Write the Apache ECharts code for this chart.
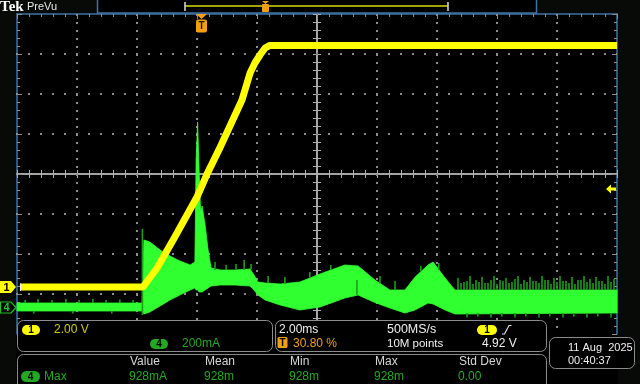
<!DOCTYPE html>
<html><head><meta charset="utf-8">
<script src="https://cdn.jsdelivr.net/npm/echarts@6/dist/echarts.min.js"></script>
<style>html,body{margin:0;padding:0;background:#000;}#c{width:640px;height:384px;}</style>
</head><body><div id="c"></div>
<script>
// Screen time range (ms, relative to trigger at 30.80 %), 2.00 ms/div
const timeMin = -6.16, timeMax = 13.84;
// Channel 1: 2.00 V/div ; Channel 4: 200 mA/div (screen extents incl. offsets)
const ch1Min = -2.35, ch1Max = 13.65;
const ch4Min = -0.1325, ch4Max = 1.4675;

// Graticule divisions (10 x 8), interior lines
const gridXDivs = [-4, -3, -2, -1, 1, 2, 3, 4];
const gridYDivs = [-3, -2, -1, 1, 2, 3];

// Channel 1 (yellow) voltage trace
const ch1Time  = [-6.06, -1.96, -1.49, -0.89, -0.16, 0.17, 0.61, 1.34, 1.61, 1.77, 1.94, 2.11, 2.27, 13.84];
const ch1Volts = [0, 0, 0.95, 2.53, 4.5, 5.63, 6.98, 9.35, 10.7, 11.2, 11.6, 11.95, 12.08, 12.08];

// Channel 4 (green) current envelope
const ch4Time = [-6.16,-1.99,-1.93,-1.73,-1.39,-1.06,-0.73,-0.39,-0.23,-0.19,-0.14,-0.09,-0.04,0.01,0.11,0.21,0.31,0.61,1.11,1.61,1.74,1.87,2.11,2.61,3.27,3.94,4.77,5.21,5.77,6.27,6.77,7.11,7.54,7.71,8.11,8.44,13.84];
const ch4High = [0.0225,0.0225,0.3375,0.3275,0.2875,0.2575,0.2325,0.2125,0.2275,0.7375,0.9275,0.6875,0.4775,0.5075,0.4125,0.2875,0.1975,0.1875,0.1875,0.1925,0.1625,0.1275,0.1225,0.1175,0.1275,0.1675,0.2125,0.2075,0.1375,0.0875,0.0875,0.1525,0.2125,0.2275,0.1475,0.0875,0.0875];
const ch4Low  = [-0.0175,-0.0175,-0.0325,-0.0225,0.0075,0.0375,0.0625,0.0875,0.0975,0.0875,0.0875,0.0775,0.0775,0.0775,0.0875,0.0975,0.1075,0.1125,0.1125,0.1075,0.0875,0.0625,0.0375,0.0125,-0.0125,0.0025,0.0475,0.0625,0.025,-0.0025,-0.0275,-0.0125,0.0225,0.0175,-0.0125,-0.0325,-0.0275];

// Channel 4 noise spikes (time, from, to)
const spikeTime = [-5.89,-5.46,-4.99,-4.53,-4.09,-3.63,-3.19,-2.73,-2.29,-5.6,-4.3,-3.0,-1.98,0.44,0.81,1.14,1.41,1.64,2.21,2.77,3.6,4.3,5.17,5.94,6.44,7.3,7.9,
  8.54,8.74,8.94,9.14,9.34,9.54,9.74,9.94,10.14,10.34,10.54,10.74,10.94,11.14,11.34,11.54,11.74,11.94,12.14,12.34,12.54,12.74,12.94,13.14,13.34,13.54,13.74,
  8.64,8.84,9.04,9.24,9.44,9.64,9.84,10.04,10.24,10.44,10.64,10.84,11.04,11.24,11.44,11.64,11.84,12.04,12.24,12.44,12.64,12.84,13.04,13.24,13.44,13.64,
  8.84,9.64,10.44,11.24,12.04,12.84,13.64,9.2,10.0,10.8,11.6,12.4,13.2];
const spikeLow  = [0.0225,0.0225,0.0225,0.0225,0.0225,0.0225,0.0225,0.0225,0.0225,-0.03,-0.03,-0.03,-0.0375,0.1875,0.1875,0.1875,0.1875,0.1925,0.1225,0.1175,0.1475,0.1875,0.0625,0.12,0.0875,0.1825,0.1875,
  0.0875,0.0875,0.0875,0.0875,0.0875,0.0875,0.0875,0.0875,0.0875,0.0875,0.0875,0.0875,0.0875,0.0875,0.0875,0.0875,0.0875,0.0875,0.0875,0.0875,0.0875,0.0875,0.0875,0.0875,0.0875,0.0875,0.0875,
  0.0875,0.0875,0.0875,0.0875,0.0875,0.0875,0.0875,0.0875,0.0875,0.0875,0.0875,0.0875,0.0875,0.0875,0.0875,0.0875,0.0875,0.0875,0.0875,0.0875,0.0875,0.0875,0.0875,0.0875,0.0875,0.0875,
  -0.05,-0.05,-0.05,-0.05,-0.05,-0.05,-0.05,-0.045,-0.045,-0.045,-0.045,-0.045,-0.045];
const spikeHigh = [0.0375,0.0425,0.0375,0.0425,0.0375,0.0425,0.0375,0.04,0.0375,-0.0175,-0.0175,-0.0175,0.3925,0.2275,0.2125,0.2175,0.2375,0.2175,0.1575,0.1525,0.1775,0.2125,0.1375,0.1575,0.1325,0.2075,0.2225,
  0.1475,0.1275,0.1575,0.1375,0.1525,0.1225,0.1575,0.1375,0.1475,0.1275,0.1575,0.1375,0.1525,0.1325,0.1575,0.1375,0.1475,0.1575,0.1325,0.1525,0.1375,0.1575,0.1425,0.1525,0.1325,0.1575,0.1425,
  0.1225,0.1325,0.1175,0.1275,0.1225,0.1375,0.1175,0.1325,0.1225,0.1425,0.1175,0.1275,0.1325,0.1225,0.1375,0.1175,0.1275,0.1325,0.1225,0.1175,0.1375,0.1275,0.1225,0.1325,0.1175,0.1275,
  -0.0275,-0.0275,-0.0275,-0.0275,-0.0275,-0.0275,-0.0275,-0.0275,-0.0275,-0.0275,-0.0275,-0.0275,-0.0275];

// Readout texts
const ch1Scale = '2.00 V', ch4Scale = '200mA';
const timeScale = '2.00ms', triggerPos = '30.80 %', sampleRate = '500MS/s', recordLen = '10M points', trigLevel = '4.92 V';
const dateText = '11 Aug  2025', timeText = '00:40:37';
const measHeaders = ['Value', 'Mean', 'Min', 'Max', 'Std Dev'];
const measValues = ['928mA', '928m', '928m', '928m', '0.00'];

const GRAY = '#8c8c8c', CENTER = '#b0b0b0', BLUE = '#3f74a8';
const YEL = '#ffff00', GRN = '#30ff30', DGRN = '#1c9e1c', ORG = '#f0a010';
const FONT = '"Liberation Sans", Arial, sans-serif';

const chart = echarts.init(document.getElementById('c'), null, {renderer: 'canvas'});

function gridAxis(extra) {
  return Object.assign({
    type: 'value', min: -5, max: 5, interval: 1,
    axisLabel: {show: false}, axisTick: {show: false}, axisLine: {show: false},
    splitLine: {show: false}, minorTick: {show: false}
  }, extra);
}
function gridYAxis(extra) {
  return Object.assign({
    type: 'value', min: -4, max: 4, interval: 1,
    axisLabel: {show: false}, axisTick: {show: false}, axisLine: {show: false},
    splitLine: {show: false}, minorTick: {show: false}
  }, extra);
}
const centerLine = {show: true, onZero: true, onZeroAxisIndex: 0, lineStyle: {color: CENTER, width: 1.5}};
const centerTick = {show: true, length: 4, lineStyle: {color: CENTER, width: 1}};
const centerMinor = {show: true, splitNumber: 5, length: 4, lineStyle: {color: CENTER, width: 1}};
const borderLine = {show: true, onZero: false, lineStyle: {color: BLUE, width: 1.5}};
const borderTick = {show: true, inside: true, length: 5, lineStyle: {color: GRAY, width: 1}};
const borderMinor = {show: true, splitNumber: 5, length: 3, lineStyle: {color: GRAY, width: 1}};

const T = (text, x, y, fill, opts) => Object.assign({
  type: 'text', x: x, y: y, z: 101,
  style: Object.assign({text: text, fill: fill, font: '12px ' + FONT, align: 'left', verticalAlign: 'middle'}, opts || {})
});
const pill = (x, y, w, h, fill, label, tcol) => ([
  {type: 'rect', z: 101, shape: {x: x, y: y, width: w, height: h, r: h / 2}, style: {fill: fill}},
  {type: 'text', z: 102, x: x + w / 2, y: y + h / 2 + 0.5, style: {text: label, fill: tcol, font: 'bold 10px ' + FONT, align: 'center', verticalAlign: 'middle'}}
]);
const panel = (x, y, w, h) => ({type: 'rect', z: 100, shape: {x: x + 0.5, y: y + 0.5, width: w, height: h, r: 6}, style: {fill: '#000', stroke: '#8c8c8c', lineWidth: 1}});

const measX = [130, 205, 290, 375, 459];

const graphics = [
  // side margins
  {type: 'rect', z: 99, shape: {x: 0, y: 0, width: 16, height: 384}, style: {fill: '#070a07'}},
  {type: 'rect', z: 99, shape: {x: 618, y: 0, width: 22, height: 384}, style: {fill: '#070a07'}},
  {type: 'rect', z: 99, shape: {x: 0, y: 0, width: 640, height: 13}, style: {fill: '#070a07'}},
  // top bar
  {type: 'text', z: 101, x: 0, y: 7, style: {text: 'Tek', fill: '#fff', font: 'bold 15px "Liberation Serif", serif', verticalAlign: 'middle'}},
  {type: 'text', z: 101, x: 27, y: 7, style: {text: 'PreVu', fill: '#e8e8e8', font: '11px ' + FONT, verticalAlign: 'middle'}},
  {type: 'rect', z: 100, shape: {x: 97.5, y: -1, width: 439, height: 14}, style: {fill: '#000', stroke: BLUE, lineWidth: 1.5}},
  {type: 'line', z: 101, shape: {x1: 185, y1: 6, x2: 448, y2: 6}, style: {stroke: '#a4a400', lineWidth: 2}},
  {type: 'line', z: 101, shape: {x1: 185, y1: 2, x2: 185, y2: 11}, style: {stroke: '#ddd', lineWidth: 1.5}},
  {type: 'line', z: 101, shape: {x1: 448, y1: 2, x2: 448, y2: 11}, style: {stroke: '#ddd', lineWidth: 1.5}},
  {type: 'polygon', z: 101, shape: {points: [[262, 1], [269, 1], [265.5, 4]]}, style: {fill: ORG}},
  {type: 'rect', z: 101, shape: {x: 262, y: 4, width: 7, height: 8, r: 1}, style: {fill: ORG}},
  // trigger position marker
  {type: 'polygon', z: 101, shape: {points: [[196, 14], [207, 14], [201.5, 19]]}, style: {fill: ORG}},
  {type: 'rect', z: 101, shape: {x: 196, y: 19.5, width: 11, height: 13, r: 2}, style: {fill: ORG}},
  {type: 'text', z: 102, x: 201.5, y: 26.5, style: {text: 'T', fill: '#2a1800', font: 'bold 10px ' + FONT, align: 'center', verticalAlign: 'middle'}},
  // channel markers
  {type: 'polygon', z: 101, shape: {points: [[0, 281], [11, 281], [16, 287], [11, 293], [0, 293]]}, style: {fill: YEL}},
  {type: 'text', z: 102, x: 6.5, y: 287.5, style: {text: '1', fill: '#000', font: 'bold 11px ' + FONT, align: 'center', verticalAlign: 'middle'}},
  {type: 'polygon', z: 101, shape: {points: [[0.5, 302], [11, 302], [16, 307.5], [11, 313], [0.5, 313]]}, style: {fill: '#000', stroke: '#22c422', lineWidth: 1.2}},
  {type: 'text', z: 102, x: 6.5, y: 308, style: {text: '4', fill: '#22c422', font: 'bold 11px ' + FONT, align: 'center', verticalAlign: 'middle'}},
  {type: 'line', z: 101, shape: {x1: 20.5, y1: 283.5, x2: 20.5, y2: 291}, style: {stroke: '#eee', lineWidth: 1.2}},
  // trigger level arrow
  {type: 'polygon', z: 101, shape: {points: [[606, 189], [611, 184.5], [611, 187.5], [616, 187.5], [616, 190.5], [611, 190.5], [611, 193.5]]}, style: {fill: YEL}},
  // panels
  panel(17, 320, 255, 31),
  panel(275, 320, 271, 31),
  panel(549, 337, 85, 31),
  panel(17, 354, 529, 40),
  ...pill(22, 325, 18, 10, YEL, '1', '#000'),
  T(ch1Scale, 54, 330, '#cccc00'),
  ...pill(150, 339, 18, 10, '#22a822', '4', '#000'),
  T(ch4Scale, 182, 344, '#22a822'),
  T(timeScale, 279, 330, '#f0f0f0'),
  {type: 'rect', z: 101, shape: {x: 277.5, y: 337, width: 10, height: 11, r: 1.5}, style: {fill: ORG}},
  {type: 'text', z: 102, x: 282.5, y: 343, style: {text: 'T', fill: '#000', font: 'bold 10px ' + FONT, align: 'center', verticalAlign: 'middle'}},
  T(triggerPos, 293, 343.5, ORG),
  T(sampleRate, 387, 330, '#f0f0f0', {font: '12.5px ' + FONT}),
  T(recordLen, 387, 343.5, '#f0f0f0', {font: '11.5px ' + FONT}),
  ...pill(477, 325, 20, 10, YEL, '1', '#000'),
  {type: 'polyline', z: 101, shape: {points: [[502, 334], [504.5, 334], [509, 325.5], [511.5, 325.5]]}, style: {stroke: '#e0e0e0', lineWidth: 1.2, fill: null}},
  T(trigLevel, 482, 343.5, '#f0f0f0'),
  T(dateText, 568, 347.5, '#f0f0f0', {font: '11px ' + FONT}),
  T(timeText, 568, 361, '#f0f0f0', {font: '11px ' + FONT}),
  ...measHeaders.map((h, i) => T(h, measX[i], 362, '#d6d6d6')),
  ...pill(21, 371, 19, 11, '#22a822', '4', '#000'),
  T('Max', 44, 377, '#22a822'),
  ...measValues.map((v, i) => T(v, measX[i] - 1, 377, '#22a822'))
];

const option = {
  backgroundColor: '#000',
  animation: false,
  grid: {left: 17, top: 14, right: 23, bottom: 50, show: false, outerBoundsMode: 'none'},
  xAxis: [
    gridAxis({}),
    gridAxis({position: 'bottom', axisLine: centerLine, axisTick: centerTick, minorTick: centerMinor}),
    gridAxis({position: 'top', axisLine: centerLine, axisTick: centerTick, minorTick: centerMinor}),
    gridAxis({position: 'top', axisLine: borderLine, axisTick: borderTick, minorTick: borderMinor}),
    {type: 'value', min: timeMin, max: timeMax, show: false}
  ],
  yAxis: [
    gridYAxis({}),
    gridYAxis({position: 'left', axisLine: centerLine, axisTick: centerTick, minorTick: centerMinor}),
    gridYAxis({position: 'right', axisLine: centerLine, axisTick: centerTick, minorTick: centerMinor}),
    gridYAxis({position: 'left', axisLine: borderLine, axisTick: borderTick, minorTick: borderMinor}),
    gridYAxis({position: 'right', axisLine: borderLine, axisTick: borderTick, minorTick: borderMinor}),
    {type: 'value', min: ch1Min, max: ch1Max, show: false},
    {type: 'value', min: ch4Min, max: ch4Max, show: false}
  ],
  series: [
    {
      name: 'graticule-v', type: 'custom', xAxisIndex: 0, yAxisIndex: 0, z: 1, silent: true,
      data: gridXDivs.map(v => [v]),
      renderItem: function (params, api) {
        const a = api.coord([api.value(0), 4]);
        const b = api.coord([api.value(0), -4]);
        const x = Math.round(a[0]);
        return {type: 'line', shape: {x1: x, y1: a[1], x2: x, y2: b[1]}, style: {stroke: GRAY, lineWidth: 2, lineDash: [2, 6], fill: null}};
      }
    },
    {
      name: 'graticule-h', type: 'custom', xAxisIndex: 0, yAxisIndex: 0, z: 1, silent: true,
      data: gridYDivs.map(v => [v]),
      renderItem: function (params, api) {
        const a = api.coord([-5, api.value(0)]);
        const b = api.coord([5, api.value(0)]);
        const y = Math.round(a[1]);
        return {type: 'line', shape: {x1: a[0] - 1, y1: y, x2: b[0], y2: y}, style: {stroke: GRAY, lineWidth: 2, lineDash: [2, 10], fill: null}};
      }
    },
    {
      name: 'CH4 envelope', type: 'custom', xAxisIndex: 4, yAxisIndex: 6, z: 5, silent: true,
      data: ch4Time.map((t, i) => [t, ch4Low[i], ch4High[i]]),
      renderItem: function (params, api) {
        if (params.dataIndex !== 0) return null;
        const top = ch4Time.map((t, i) => api.coord([t, ch4High[i]]));
        const bot = ch4Time.map((t, i) => api.coord([t, ch4Low[i]])).reverse();
        return {type: 'polygon', shape: {points: top.concat(bot)}, style: {fill: GRN, stroke: GRN, lineWidth: 0.8}};
      }
    },
    {
      name: 'CH4 spikes', type: 'custom', xAxisIndex: 4, yAxisIndex: 6, z: 6, silent: true,
      data: spikeTime.map((t, i) => [t, spikeLow[i], spikeHigh[i]]),
      renderItem: function (params, api) {
        const p1 = api.coord([api.value(0), api.value(1)]);
        const p2 = api.coord([api.value(0), api.value(2)]);
        return {type: 'line', shape: {x1: p1[0], y1: p1[1], x2: p2[0], y2: p2[1]}, style: {stroke: DGRN, lineWidth: 1.6}};
      }
    },
    {
      name: 'CH1', type: 'line', xAxisIndex: 4, yAxisIndex: 5, z: 10, silent: true,
      data: ch1Time.map((t, i) => [t, ch1Volts[i]]),
      symbol: 'none', smooth: false,
      lineStyle: {color: YEL, width: 7, cap: 'butt', join: 'round'}
    }
  ],
  graphic: graphics
};
chart.setOption(option);
</script>
</body></html>
